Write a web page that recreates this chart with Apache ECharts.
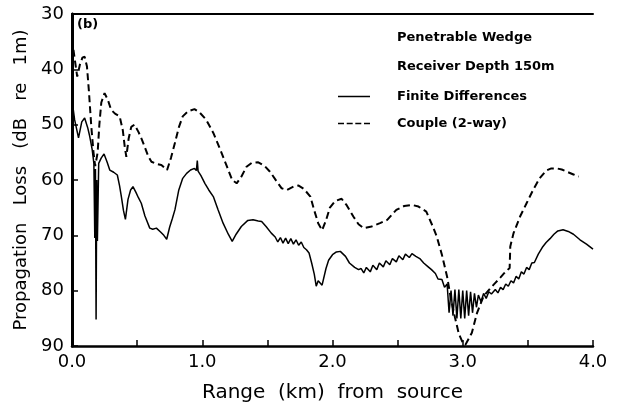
<!DOCTYPE html>
<html>
<head>
<meta charset="utf-8">
<script src="https://cdn.jsdelivr.net/npm/echarts@6/dist/echarts.min.js"></script>
<style>
  html, body { margin: 0; padding: 0; background: #fff; }
  #main { width: 621px; height: 406px; }
</style>
</head>
<body>
<div id="main"></div>
<script>
// Finite differences (solid)
const fdRange = [0.00, 0.02, 0.05, 0.075, 0.097, 0.12, 0.136, 0.155, 0.168, 0.175, 0.180, 0.185, 0.190, 0.195, 0.205, 0.225, 0.246, 0.27, 0.29, 0.32,
  0.348, 0.365, 0.379, 0.395, 0.41, 0.43, 0.45, 0.468, 0.49, 0.51, 0.532, 0.56, 0.597, 0.62, 0.648, 0.68, 0.705, 0.727, 0.75, 0.77,
  0.79, 0.82, 0.85, 0.88, 0.91, 0.94, 0.955, 0.962, 0.968, 0.99, 1.02, 1.05, 1.085, 1.12, 1.16, 1.20, 1.23, 1.26, 1.30, 1.35,
  1.39, 1.43, 1.456, 1.49, 1.53, 1.56, 1.58, 1.60, 1.62, 1.64, 1.66, 1.68, 1.70, 1.72, 1.74, 1.76, 1.78, 1.80, 1.82, 1.84,
  1.86, 1.875, 1.89, 1.905, 1.92, 1.93, 1.95, 1.97, 2.00, 2.03, 2.06, 2.10, 2.13, 2.17, 2.20, 2.22, 2.24, 2.26, 2.29, 2.31,
  2.34, 2.36, 2.39, 2.41, 2.44, 2.46, 2.49, 2.51, 2.54, 2.56, 2.59, 2.61, 2.64, 2.67, 2.70, 2.73, 2.76, 2.79, 2.81, 2.84,
  2.86, 2.88, 2.895, 2.91, 2.925, 2.94, 2.955, 2.97, 2.985, 3.00, 3.015, 3.03, 3.045, 3.06, 3.075, 3.09, 3.105, 3.12, 3.14, 3.16,
  3.18, 3.20, 3.22, 3.25, 3.27, 3.29, 3.31, 3.33, 3.35, 3.37, 3.39, 3.41, 3.43, 3.45, 3.47, 3.49, 3.51, 3.53, 3.55, 3.58,
  3.61, 3.64, 3.67, 3.70, 3.73, 3.77, 3.81, 3.85, 3.90, 3.95, 4.00]
const fdLoss = [45.5, 49.1, 52.4, 49.5, 48.8, 50.5, 52.1, 54.5, 57.0, 70.5, 58.0, 85.2, 60.0, 71.0, 57.0, 56.0, 55.3, 56.8, 58.2, 58.6,
  59.1, 61.0, 63.0, 65.5, 67.1, 63.5, 61.8, 61.2, 62.2, 63.2, 64.2, 66.5, 68.7, 68.9, 68.7, 69.4, 70.0, 70.7, 68.5, 67.0,
  65.4, 61.8, 59.7, 58.8, 58.2, 57.9, 58.3, 56.5, 58.4, 59.2, 60.6, 61.8, 63.0, 65.3, 67.8, 69.8, 71.1, 69.8, 68.4, 67.3,
  67.2, 67.4, 67.5, 68.4, 69.6, 70.3, 71.2, 70.4, 71.4, 70.5, 71.5, 70.6, 71.6, 70.8, 71.8, 71.2, 72.2, 72.6, 73.2, 75.0,
  77.0, 79.2, 78.2, 78.0, 79.0, 78.9, 76.0, 74.5, 73.5, 73.0, 72.9, 73.8, 75.0, 75.8, 76.2, 76.0, 76.8, 75.8, 76.6, 75.4,
  76.2, 75.0, 75.7, 74.6, 75.3, 74.2, 74.8, 73.7, 74.4, 73.4, 74.0, 73.3, 73.8, 74.2, 75.0, 75.6, 76.2, 76.9, 77.9, 78.0,
  79.4, 78.8, 84.0, 80.0, 84.5, 79.8, 85.0, 79.8, 85.0, 80.0, 85.0, 80.0, 84.5, 80.2, 84.0, 80.5, 83.0, 80.8, 82.0, 80.5,
  81.4, 80.2, 80.6, 79.8, 80.4, 79.4, 79.8, 78.8, 79.2, 78.2, 78.6, 77.4, 77.9, 76.6, 77.0, 75.8, 76.2, 75.0, 74.9, 73.4,
  72.2, 71.3, 70.6, 69.8, 69.2, 69.0, 69.3, 69.8, 70.8, 71.6, 72.5]

// Couple (2-way) (dashed)
const cpRange = [0.00, 0.02, 0.04, 0.06, 0.08, 0.097, 0.115, 0.13, 0.148, 0.165, 0.178, 0.187, 0.197, 0.21, 0.225, 0.25, 0.275, 0.30, 0.33, 0.366,
  0.39, 0.405, 0.417, 0.435, 0.455, 0.48, 0.51, 0.535, 0.558, 0.585, 0.61, 0.65, 0.686, 0.71, 0.73, 0.76, 0.79, 0.82, 0.85, 0.89,
  0.94, 0.98, 1.03, 1.085, 1.14, 1.19, 1.23, 1.264, 1.30, 1.34, 1.38, 1.43, 1.48, 1.52, 1.57, 1.61, 1.65, 1.70, 1.74, 1.78,
  1.83, 1.86, 1.89, 1.92, 1.95, 1.98, 2.02, 2.07, 2.11, 2.16, 2.20, 2.24, 2.30, 2.365, 2.42, 2.49, 2.55, 2.61, 2.66, 2.72,
  2.77, 2.80, 2.84, 2.88, 2.91, 2.94, 2.97, 3.00, 3.02, 3.05, 3.07, 3.11, 3.16, 3.21, 3.25, 3.29, 3.32, 3.36, 3.365, 3.39,
  3.44, 3.49, 3.54, 3.59, 3.64, 3.68, 3.72, 3.76, 3.80, 3.85, 3.89]
const cpLoss = [34.5, 38.0, 41.3, 39.2, 37.9, 37.7, 39.5, 44.0, 50.3, 55.0, 57.5, 57.8, 55.0, 50.0, 46.0, 44.3, 45.5, 47.3, 48.0, 48.5,
  51.0, 54.0, 55.8, 52.5, 50.4, 50.0, 51.3, 52.6, 54.0, 55.7, 56.7, 57.1, 57.3, 57.8, 58.2, 56.0, 53.3, 50.5, 48.5, 47.6,
  47.2, 47.8, 49.1, 51.5, 54.6, 57.6, 60.0, 60.6, 59.4, 57.6, 56.9, 56.8, 57.5, 58.5, 60.2, 61.5, 61.8, 61.2, 61.0, 61.6,
  63.0, 65.5, 67.8, 69.1, 67.3, 65.0, 63.8, 63.4, 64.6, 66.6, 68.0, 68.7, 68.4, 67.8, 67.2, 65.4, 64.7, 64.5, 64.8, 65.7,
  68.4, 70.2, 73.5, 77.5, 81.6, 84.8, 87.8, 89.4, 89.8, 88.5, 87.6, 84.0, 81.0, 79.6, 78.6, 77.6, 76.8, 75.9, 72.0, 69.6,
  66.6, 64.2, 61.8, 59.7, 58.3, 57.9, 57.9, 58.1, 58.5, 59.0, 59.4]

const FONT = 'DejaVu Sans'

// legend sample shapes: a thin bar and four short dashes
const solidIcon = 'path://M0,0h32v1.5h-32z'
const dashIcon = 'path://M0,0h6v1.5h-6z M8.7,0h6v1.5h-6z M17.3,0h6v1.5h-6z M26,0h6v1.5h-6z'

const zip = (xs, ys) => xs.map((x, i) => [x, ys[i]])

const chart = echarts.init(document.getElementById('main'), null, { renderer: 'canvas' })

const option = {
    animation: false,
    backgroundColor: '#fff',
    grid: {
        left: 72,
        right: 28,
        top: 14,
        bottom: 60,
        outerBoundsMode: 'none',
    },
    legend: {
        orient: 'vertical',
        left: 333,
        top: 85,
        itemWidth: 32,
        itemHeight: 2,
        itemGap: 14,
        selectedMode: false,
        textStyle: {
            fontFamily: FONT,
            fontSize: 13,
            fontWeight: 'bold',
            color: '#000',
            padding: [0, 0, 0, 22],
        },
        data: [
            { name: 'Finite Differences', icon: solidIcon, itemStyle: { color: '#000' } },
            { name: 'Couple (2-way)', icon: dashIcon, itemStyle: { color: '#000' } },
        ],
    },
    graphic: [
        {
            type: 'text',
            left: 77,
            top: 18,
            style: { text: '(b)', fontFamily: FONT, fontSize: 13, fontWeight: 'bold', fill: '#000' },
        },
        {
            type: 'text',
            left: 397,
            top: 31,
            style: { text: 'Penetrable Wedge', fontFamily: FONT, fontSize: 13, fontWeight: 'bold', fill: '#000' },
        },
        {
            type: 'text',
            left: 397,
            top: 60,
            style: { text: 'Receiver Depth 150m', fontFamily: FONT, fontSize: 13, fontWeight: 'bold', fill: '#000' },
        },
    ],
    xAxis: [
        {
            type: 'value',
            min: 0,
            max: 4,
            interval: 0.5,
            name: 'Range  (km)  from  source',
            nameLocation: 'middle',
            nameGap: 37,
            nameTextStyle: { fontFamily: FONT, fontSize: 20, color: '#000' },
            axisLine: { onZero: false, lineStyle: { color: '#000', width: 2.5 } },
            axisTick: { inside: true, length: 6, lineStyle: { color: '#000', width: 1.5 } },
            axisLabel: {
                fontFamily: FONT,
                fontSize: 18,
                color: '#000',
                margin: 7,
                formatter: (v) => (Math.abs(v - Math.round(v)) < 1e-6 ? v.toFixed(1) : ''),
            },
            splitLine: { show: false },
        },
        {
            type: 'value',
            position: 'top',
            min: 0,
            max: 4,
            axisLine: { show: true, lineStyle: { color: '#000', width: 2 } },
            axisTick: { show: false },
            axisLabel: { show: false },
            splitLine: { show: false },
        },
    ],
    yAxis: [
        {
            type: 'value',
            inverse: true,
            min: 30,
            max: 90,
            interval: 10,
            name: 'Propagation   Loss   (dB   re   1m)',
            nameLocation: 'middle',
            nameGap: 42,
            nameTextStyle: { fontFamily: FONT, fontSize: 18, color: '#000' },
            axisLine: { onZero: false, lineStyle: { color: '#000', width: 2.5 } },
            axisTick: { inside: true, length: 6, lineStyle: { color: '#000', width: 1.5 } },
            axisLabel: { fontFamily: FONT, fontSize: 18, color: '#000', margin: 8 },
            splitLine: { show: false },
        },
        {
            type: 'value',
            position: 'right',
            inverse: true,
            min: 30,
            max: 90,
            axisLine: { show: true, lineStyle: { color: '#000', width: 3 } },
            axisTick: { show: false },
            axisLabel: { show: false },
            splitLine: { show: false },
        },
    ],
    series: [
        {
            name: 'Finite Differences',
            type: 'line',
            xAxisIndex: 0,
            yAxisIndex: 0,
            symbol: 'none',
            lineStyle: { color: '#000', width: 1.5 },
            itemStyle: { color: '#000' },
            data: zip(fdRange, fdLoss),
        },
        {
            name: 'Couple (2-way)',
            type: 'line',
            xAxisIndex: 0,
            yAxisIndex: 0,
            symbol: 'none',
            lineStyle: { color: '#000', width: 2, type: [7, 4] },
            itemStyle: { color: '#000' },
            data: zip(cpRange, cpLoss),
        },
    ],
}

chart.setOption(option)
</script>
</body>
</html>
